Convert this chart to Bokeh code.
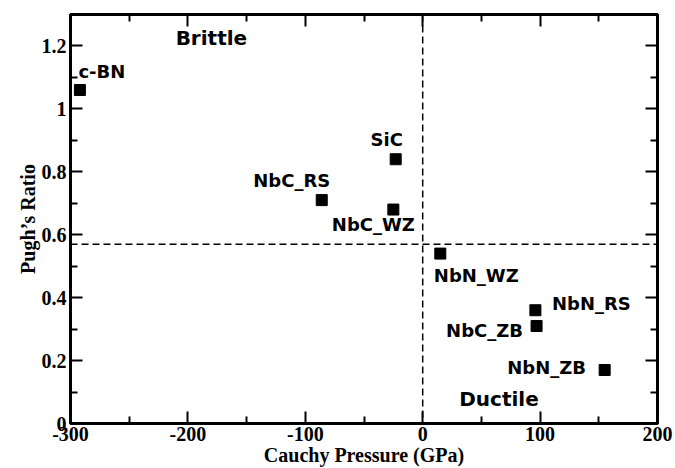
from bokeh.plotting import figure
from bokeh.models import (ColumnDataSource, LabelSet, Label, Span, LinearAxis,
                          FixedTicker, Range1d, CustomJSTickFormatter)
from bokeh.core.properties import value
from bokeh.embed import file_html
from bokeh.resources import INLINE

# ---- data ----
materials = ["c-BN", "NbC_RS", "SiC", "NbC_WZ", "NbN_WZ", "NbN_RS", "NbC_ZB", "NbN_ZB"]
cauchy_pressure = [-292, -86, -23, -25, 15, 96, 97, 155]
pugh_ratio = [1.06, 0.71, 0.84, 0.68, 0.54, 0.36, 0.31, 0.17]

pugh_threshold = 0.57
cauchy_threshold = 0

x_ticks = [-300, -200, -100, 0, 100, 200]
x_tick_labels = ["-300", "-200", "-100", "0", "100", "200"]
x_minor = [-250, -150, -50, 50, 150]
y_ticks = [0, 0.2, 0.4, 0.6, 0.8, 1.0, 1.2]
y_tick_labels = ["0", "0.2", "0.4", "0.6", "0.8", "1", "1.2"]
y_minor = [0.1, 0.3, 0.5, 0.7, 0.9, 1.1]

region_names = ["Brittle", "Ductile"]
region_x = [-180, 65]
region_y = [1.224, 0.077]

# label offsets in screen px (layout)
label_dx = [22, -30, -9, -20, 36, 56, -52, -58]
label_dy = [19, 20, 20, -15, -22, 7, -5, 3]

SERIF = "Liberation Serif"
SANS = "DejaVu Sans"

p = figure(width=675, height=468, output_backend="svg", toolbar_location=None,
           x_range=Range1d(-300, 200), y_range=Range1d(0, 1.3),
           min_border_left=70, min_border_right=18, min_border_top=14,
           min_border_bottom=42)
p.grid.visible = False
p.background_fill_color = "white"
p.border_fill_color = "white"
p.outline_line_color = "black"
p.outline_line_width = 3

xt = FixedTicker(ticks=x_ticks, minor_ticks=x_minor)
yt = FixedTicker(ticks=y_ticks, minor_ticks=y_minor)

def style(ax, ticker):
    ax.ticker = ticker
    ax.axis_line_width = 3
    ax.axis_line_color = "black"
    ax.major_tick_in = 12
    ax.major_tick_out = 0
    ax.minor_tick_in = 7
    ax.minor_tick_out = 0
    ax.major_tick_line_width = 2
    ax.minor_tick_line_width = 2
    ax.major_label_text_font = SERIF
    ax.major_label_text_font_style = "bold"
    ax.major_label_text_font_size = "20px"
    ax.major_label_text_color = "black"
    ax.major_label_standoff = 3
    ax.axis_label_text_font = SERIF
    ax.axis_label_text_font_style = "bold"
    ax.axis_label_text_font_size = "20px"
    ax.axis_label_text_color = "black"
    ax.axis_label_standoff = 0

xa = p.xaxis[0]
ya = p.yaxis[0]
style(xa, xt)
style(ya, yt)
xa.major_label_overrides = {t: l for t, l in zip(x_ticks, x_tick_labels)}
ya.major_label_overrides = {t: l for t, l in zip(y_ticks, y_tick_labels)}
xa.axis_label = "Cauchy Pressure (GPa)"
ya.axis_label = "Pugh\u2019s Ratio"
ya.major_label_standoff = 4

blank = CustomJSTickFormatter(code="return '';")
top = LinearAxis(formatter=blank)
style(top, xt)
top.major_label_standoff = 0
right = LinearAxis(formatter=blank)
style(right, yt)
right.major_label_standoff = 0
p.add_layout(top, "above")
p.add_layout(right, "right")

p.add_layout(Span(location=cauchy_threshold, dimension="height", line_color="black",
                  line_width=1.5, line_dash="7 4"))
p.add_layout(Span(location=pugh_threshold, dimension="width", line_color="black",
                  line_width=1.5, line_dash="7 4"))

src = ColumnDataSource(dict(x=cauchy_pressure, y=pugh_ratio, name=materials,
                            dx=label_dx, dy=label_dy))
p.scatter("x", "y", source=src, marker="square", size=11, fill_color="black",
          line_color="black")

labels = LabelSet(x="x", y="y", text="name", source=src, x_offset="dx", y_offset="dy",
                  text_align="center", text_baseline="middle", text_font=value(SANS),
                  text_font_style="bold", text_font_size="18px", text_color="black")
p.add_layout(labels)

for name, rx, ry in zip(region_names, region_x, region_y):
    p.add_layout(Label(x=rx, y=ry, text=name, text_align="center", text_baseline="middle",
                       text_font=SANS, text_font_style="bold", text_font_size="20px",
                       text_color="black"))

open("out.html", "w").write(file_html(p, INLINE))
